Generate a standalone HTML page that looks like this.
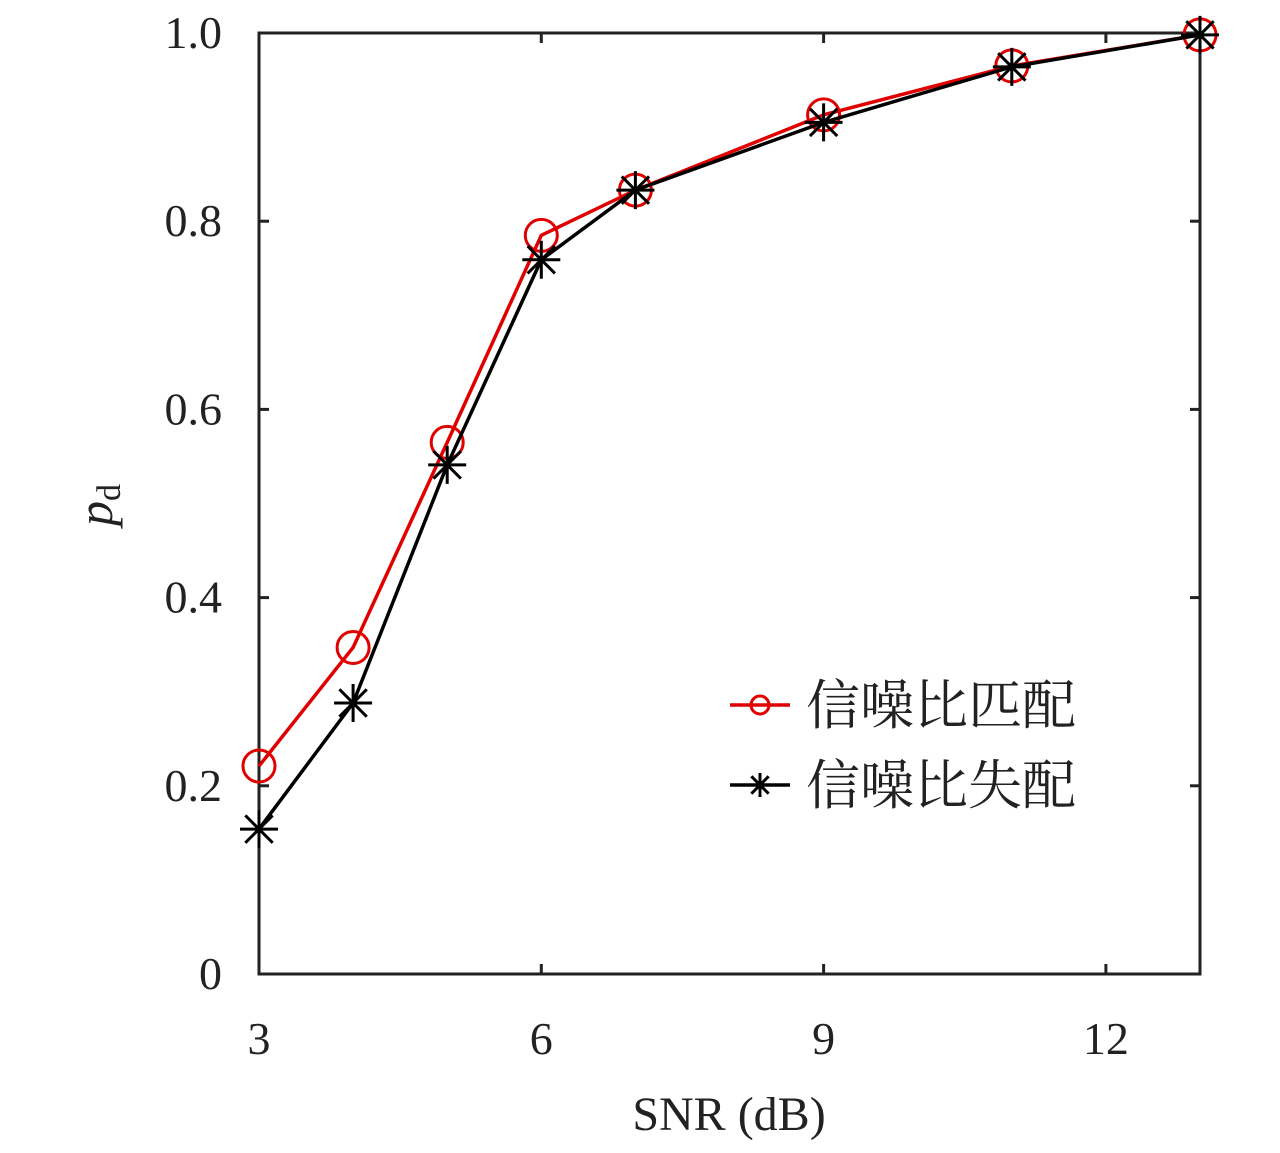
<!DOCTYPE html>
<html><head><meta charset="utf-8"><style>
body{margin:0;background:#fff}
svg text{font-family:"Liberation Serif","Noto Serif CJK SC",serif;fill:#222}
</style></head><body>
<svg width="1280" height="1148" id="chart">
</svg>
<script>
const xValues=[3,4,5,6,7,9,11,13];
const matched=[0.221,0.347,0.565,0.785,0.833,0.913,0.965,0.998];
const mismatched=[0.154,0.288,0.541,0.759,0.833,0.905,0.964,0.998];
const xTicks=[3,6,9,12];
const yTicks=[0,0.2,0.4,0.6,0.8,1.0];
const yTickLabels=["0","0.2","0.4","0.6","0.8","1.0"];
const seriesNames=["信噪比匹配","信噪比失配"];

const L=259,R=1200,T=33,B=974;
const sx=v=>L+(v-3)/(13-3)*(R-L);
const sy=v=>B-v*(B-T);
const svg=document.getElementById('chart');
const NS='http://www.w3.org/2000/svg';
function el(tag,attrs,parent){const e=document.createElementNS(NS,tag);for(const k in attrs)e.setAttribute(k,attrs[k]);(parent||svg).appendChild(e);return e;}

const frame=el('rect',{x:L,y:T,width:R-L,height:B-T,fill:'none',stroke:'#222','stroke-width':3});



xTicks.forEach(v=>{
  const x=sx(v);
  const t1=el('line',{x1:x,y1:B,x2:x,y2:B-10,stroke:'#222','stroke-width':3});
  
  
  const t2=el('line',{x1:x,y1:T,x2:x,y2:T+10,stroke:'#222','stroke-width':3});
  
  
  const tx=el('text',{x:x,y:1054,'font-size':46,'text-anchor':'middle'});
  tx.textContent=v;
  
  
});
yTicks.forEach((v,i)=>{
  const y=sy(v);
  const t1=el('line',{x1:L,y1:y,x2:L+10,y2:y,stroke:'#222','stroke-width':3});
  
  
  const t2=el('line',{x1:R,y1:y,x2:R-10,y2:y,stroke:'#222','stroke-width':3});
  
  
  const tx=el('text',{x:222,y:y+15,'font-size':46,'text-anchor':'end'});
  tx.textContent=yTickLabels[i];
  
  
});

const xt=el('text',{x:729,y:1130,'font-size':48,'text-anchor':'middle'});
xt.textContent='SNR (dB)';


const yt=el('text',{transform:'translate(112,505) rotate(-90)','font-size':50,'text-anchor':'middle'});
yt.innerHTML='<tspan font-style="italic">p</tspan><tspan font-size="34" dy="8">d</tspan>';



function circle(g,x,y,r){return el('circle',{cx:x,cy:y,r:r,fill:'none',stroke:'#e00000','stroke-width':3},g);}
function star(g,x,y,s){
  const d=`M${x-s},${y}H${x+s}M${x},${y-s}V${y+s}M${x-s*0.72},${y-s*0.72}L${x+s*0.72},${y+s*0.72}M${x-s*0.72},${y+s*0.72}L${x+s*0.72},${y-s*0.72}`;
  return el('path',{d:d,stroke:'#000','stroke-width':3,fill:'none'},g);
}
function drawSeries(vals,color,name,marker){
  const g=el('g',{});
  
  
  const pts=vals.map((v,i)=>sx(xValues[i])+','+sy(v)).join(' ');
  const pl=el('polyline',{points:pts,fill:'none',stroke:color,'stroke-width':3.5,'stroke-linejoin':'round'},g);
  
  
  vals.forEach((v,i)=>{
    const m=marker==='o'?circle(g,sx(xValues[i]),sy(v),16):star(g,sx(xValues[i]),sy(v),19);
    
    
  });
}
drawSeries(matched,'#e00000','series-matched','o');
drawSeries(mismatched,'#000','series-mismatched','*');

[['#e00000','o',705],['#000','*',785]].forEach((s,i)=>{
  const g=el('g',{});
  
  
  el('line',{x1:730,y1:s[2],x2:790,y2:s[2],stroke:s[0],'stroke-width':3.5},g);
  if(s[1]==='o')circle(g,760,s[2],9);else star(g,760,s[2],12);
  const t=el('text',{x:806,y:s[2]+19,'font-size':54},g);
  t.textContent=seriesNames[i];
});
</script>
</body></html>
